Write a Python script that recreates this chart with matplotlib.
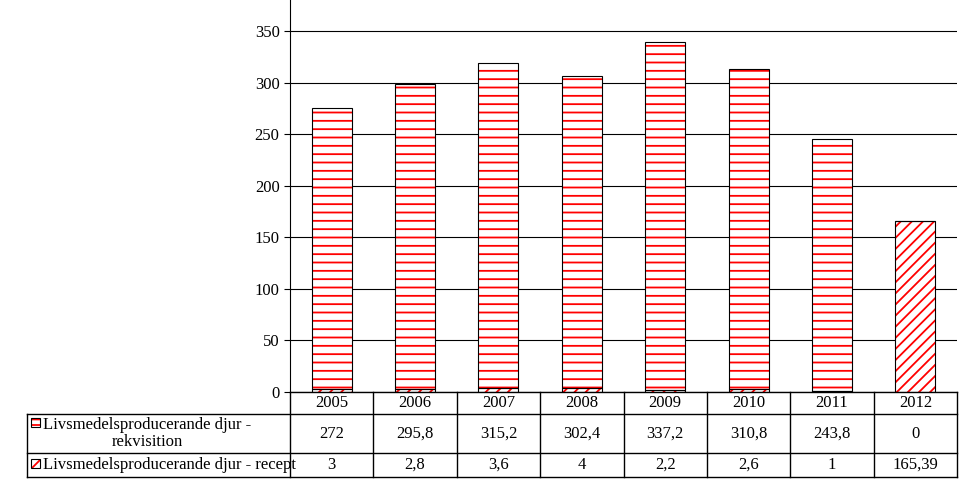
import matplotlib
matplotlib.use("Agg")
import matplotlib.pyplot as plt
from matplotlib.lines import Line2D
from matplotlib.patches import Rectangle

years = ["2005", "2006", "2007", "2008", "2009", "2010", "2011", "2012"]
rekvisition = [272, 295.8, 315.2, 302.4, 337.2, 310.8, 243.8, 0]
recept = [3, 2.8, 3.6, 4, 2.2, 2.6, 1, 165.39]
labels_rek = ["272", "295,8", "315,2", "302,4", "337,2", "310,8", "243,8", "0"]
labels_rec = ["3", "2,8", "3,6", "4", "2,2", "2,6", "1", "165,39"]
series_names = ["Livsmedelsproducerande djur -\nrekvisition", "Livsmedelsproducerande djur - recept"]

plt.rcParams["font.family"] = "Liberation Serif"
plt.rcParams["hatch.linewidth"] = 1.3
W, H = 967, 484
fig = plt.figure(figsize=(W/100, H/100), dpi=100)
x0, x1, ybot = 290, 957, 392
ax = fig.add_axes([x0/W, 1-ybot/H, (x1-x0)/W, ybot/H])
n = len(years)
xs = list(range(n))
bw = 0.48
ax.bar(xs, recept, bw, color="white", hatch="///", edgecolor="red", linewidth=0, zorder=3)
ax.bar(xs, recept, bw, fill=False, edgecolor="black", linewidth=0.8, zorder=4)
ax.bar(xs, rekvisition, bw, bottom=recept, color="white", hatch="--", edgecolor="red", linewidth=0, zorder=3)
ax.bar(xs, rekvisition, bw, bottom=recept, fill=False, edgecolor="black", linewidth=0.8, zorder=4)
ax.set_xlim(-0.5, n-0.5)
ax.set_ylim(0, 380)
ax.set_yticks(range(0, 351, 50))
ax.yaxis.grid(True, color="black", linewidth=0.8, zorder=0)
ax.set_axisbelow(True)
ax.tick_params(axis="y", labelsize=12, length=4, direction="out")
ax.set_xticks([])
for s in ["top", "right", "bottom"]:
    ax.spines[s].set_visible(False)

def L(xa, ya, xb, yb):
    fig.add_artist(Line2D([xa/W, xb/W], [1-ya/H, 1-yb/H], color="black", linewidth=1))
cw = (x1-x0)/n
rows = [392, 414, 453, 477]
tl = 27
L(x0, rows[0], x1, rows[0])
for r in rows[1:]:
    L(tl, r, x1, r)
L(tl, rows[1], tl, rows[3])
for i in range(n+1):
    L(x0+i*cw, rows[0], x0+i*cw, rows[3])
fs = 12
for i in range(n):
    cx = (x0+(i+0.5)*cw)/W
    fig.text(cx, 1-(rows[0]+rows[1])/2/H, years[i], ha="center", va="center", fontsize=fs)
    fig.text(cx, 1-(rows[1]+rows[2])/2/H, labels_rek[i], ha="center", va="center", fontsize=fs)
    fig.text(cx, 1-(rows[2]+rows[3])/2/H, labels_rec[i], ha="center", va="center", fontsize=fs)
for ytop, hatch in [(418, "---"), (459, "///")]:
    fig.add_artist(Rectangle((31/W, 1-(ytop+9)/H), 9/W, 9/H, facecolor="white", hatch=hatch,
                             edgecolor="red", linewidth=0))
    fig.add_artist(Rectangle((31/W, 1-(ytop+9)/H), 9/W, 9/H, fill=False, edgecolor="black", linewidth=0.8))
fig.text(43/W, 1-(rows[1]+rows[2])/2/H, series_names[0], ha="left", va="center", fontsize=fs,
         multialignment="center", linespacing=1.1)
fig.text(43/W, 1-(rows[2]+rows[3])/2/H, series_names[1], ha="left", va="center", fontsize=fs)
fig.savefig("out.png", dpi=100)
